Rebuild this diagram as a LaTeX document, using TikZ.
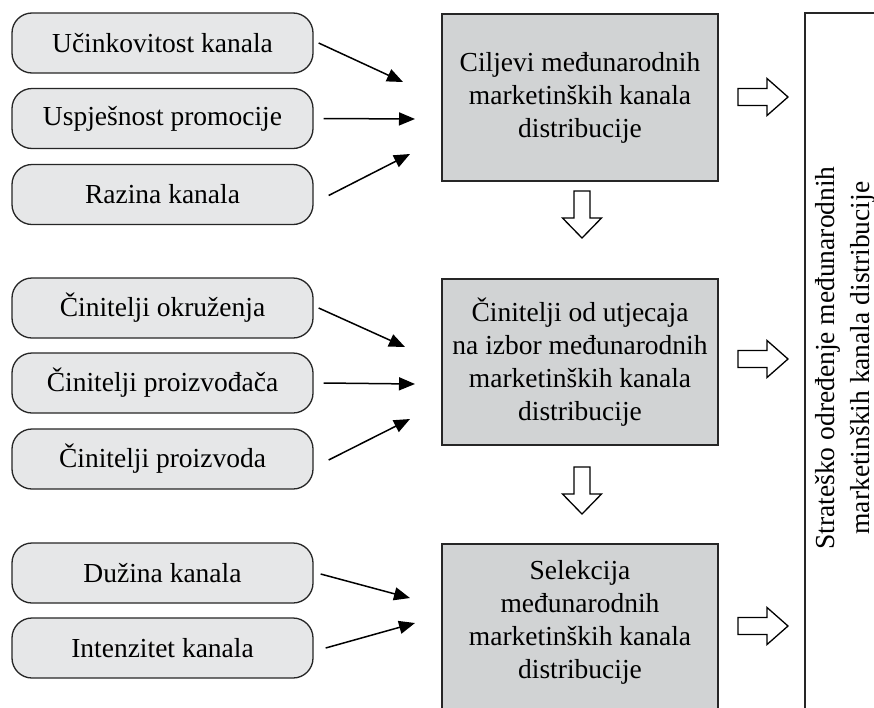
\documentclass[tikz,border=0pt]{standalone}
\usepackage{fontspec}
\setmainfont{Liberation Serif}
\usetikzlibrary{arrows.meta}
\definecolor{pillfill}{RGB}{230,231,232}
\definecolor{boxfill}{RGB}{209,211,212}
\tikzset{
  pill/.style={draw=black!85, line width=1.3pt, fill=pillfill, rounded corners=20pt,
    minimum width=301pt, minimum height=60pt, inner sep=0pt},
  graybox/.style={draw=black!85, line width=1.3pt, fill=boxfill},
  boxtext/.style={align=center, inner sep=0pt},
  conn/.style={line width=1.5pt, -{Triangle[length=16pt,width=13pt]}},
  hollow/.style={draw=black, line width=1.3pt, fill=white, line join=miter},
  rarrow/.pic={\draw[hollow] (0,-8.5) -- (29,-8.5) -- (29,-18.5) -- (50,0) -- (29,18.5) -- (29,8.5) -- (0,8.5) -- cycle;},
  darrow/.pic={\draw[hollow] (-8,0) -- (8,0) -- (8,27) -- (19.5,27) -- (0,47) -- (-19.5,27) -- (-8,27) -- cycle;}
}
\begin{document}
\begin{tikzpicture}[x=1pt, y=-1pt, font=\fontsize{27.5}{33}\selectfont]
\useasboundingbox (0,0) rectangle (874,707);
\clip (0,0) rectangle (874,707);
\fill[white] (0,0) rectangle (874,707);

% left pills
\node[pill] (p1) at (162.5,43) {Učinkovitost kanala};
\node[pill] (p2) at (162.5,118.5) {Uspješnost promocije};
\node[pill] (p3) at (162.5,194.5) {Razina kanala};
\node[pill] (p4) at (162.5,308) {Činitelji okruženja};
\node[pill] (p5) at (162.5,383) {Činitelji proizvođača};
\node[pill] (p6) at (162.5,459) {Činitelji proizvoda};
\node[pill] (p7) at (162.5,573) {Dužina kanala};
\node[pill] (p8) at (162.5,648) {Intenzitet kanala};

% gray boxes
\node[graybox, boxtext, minimum width=276pt, minimum height=167pt] (b1) at (580,97.5)
  {Ciljevi međunarodnih\\marketinških kanala\\distribucije};
\node[graybox, boxtext, minimum width=276pt, minimum height=166pt] (b2) at (580,362)
  {Činitelji od utjecaja\\na izbor međunarodnih\\marketinških kanala\\distribucije};
\draw[graybox] (442,544) rectangle (718,720);
\node[boxtext] (b3) at (580,622) {Selekcija\\međunarodnih\\marketinških kanala\\distribucije};

% right frame
\draw[line width=1.3pt, draw=black!85] (805,13) rectangle (900,720);
\node[boxtext, rotate=90, font=\fontsize{27.5}{35}\selectfont] (rt) at (845,358)
  {Strateško određenje međunarodnih\\marketinških kanala distribucije};

% arrow targets
\coordinate (t1) at (403,82);
\coordinate (t2) at (415,119);
\coordinate (t3) at (410,154);
\coordinate (t4) at (405,347);
\coordinate (t5) at (415,384);
\coordinate (t6) at (410,419);
\coordinate (t7) at (410,598);
\coordinate (t8) at (415,623);

\draw[conn] ([xshift=5pt]p1.east) -- (t1);
\draw[conn] ([xshift=10pt]p2.east) -- (t2);
\draw[conn] ([xshift=15pt,yshift=-1pt]p3.east) -- (t3);
\draw[conn] ([xshift=5pt]p4.east) -- (t4);
\draw[conn] ([xshift=10pt]p5.east) -- (t5);
\draw[conn] ([xshift=15pt,yshift=-1pt]p6.east) -- (t6);
\draw[conn] ([xshift=7pt,yshift=-1pt]p7.east) -- (t7);
\draw[conn] ([xshift=12pt]p8.east) -- (t8);

% hollow block arrows
\pic at (738,97) {rarrow};
\pic at (738,359) {rarrow};
\pic at (738,626) {rarrow};
\pic at (582,191) {darrow};
\pic at (582,467) {darrow};
\end{tikzpicture}
\end{document}
